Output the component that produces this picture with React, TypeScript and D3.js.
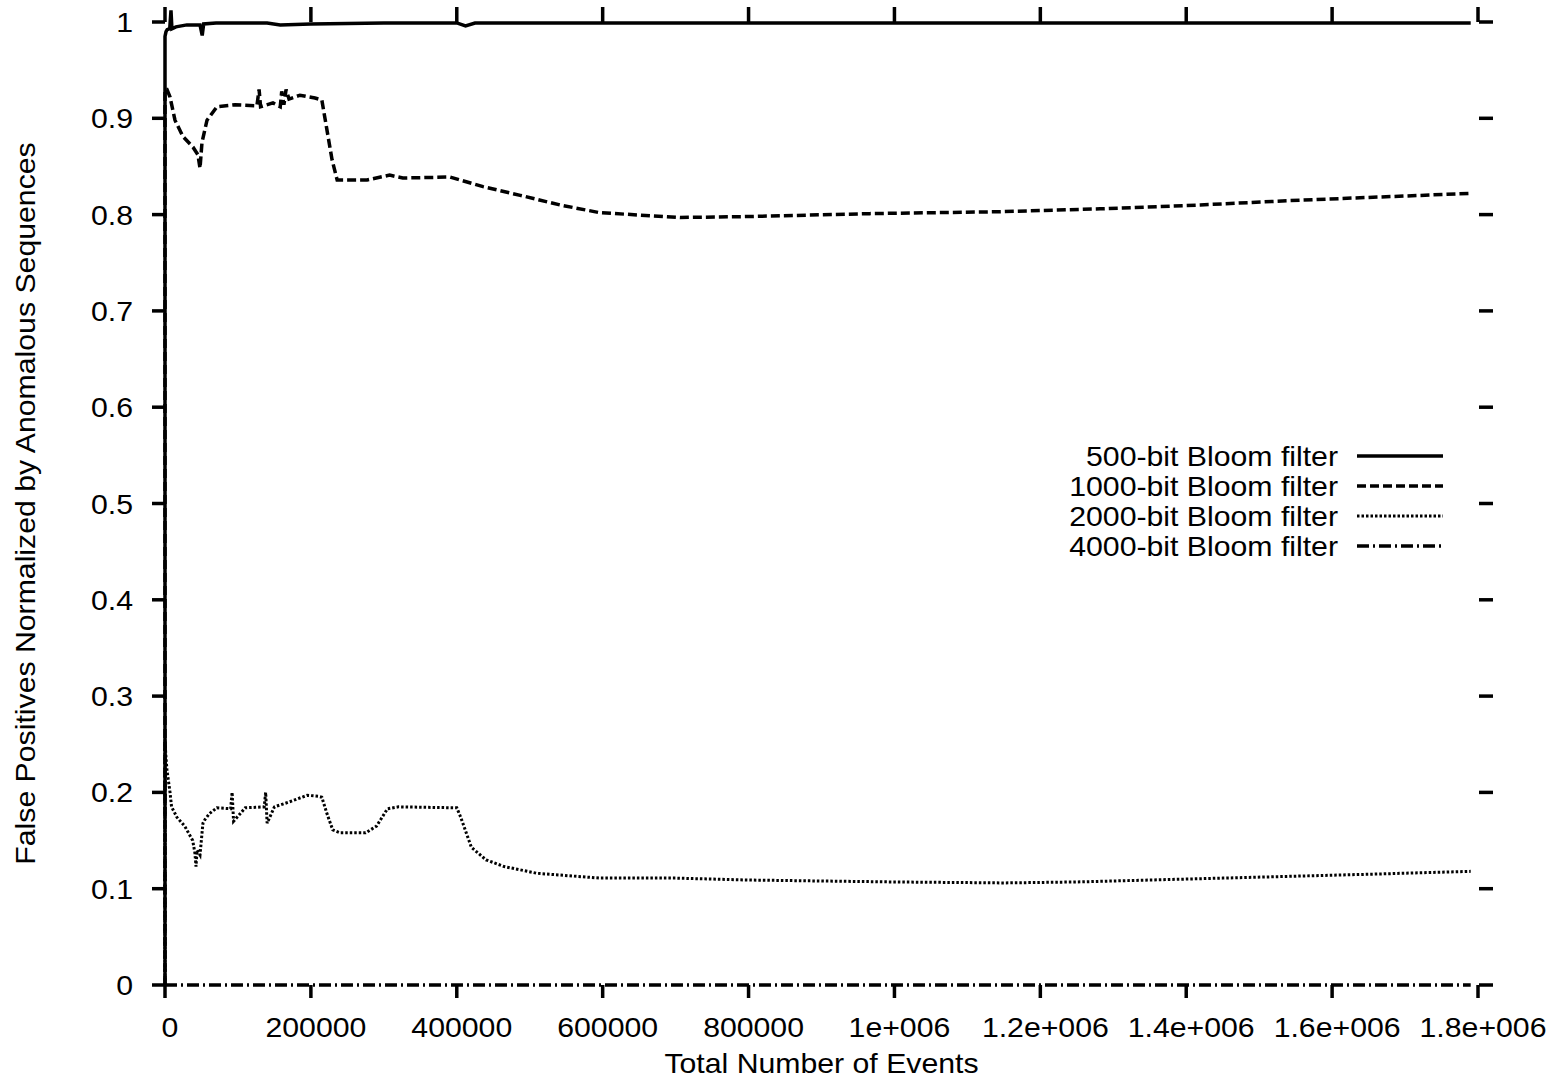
import React, { useEffect, useRef } from 'react';
import * as d3 from 'd3';

// x tick values and their labels (gnuplot style exponent)
const xTicks = [0, 200000, 400000, 600000, 800000, 1000000, 1200000, 1400000, 1600000, 1800000];
const xTickLabels = ['0', '200000', '400000', '600000', '800000', '1e+006', '1.2e+006', '1.4e+006', '1.6e+006', '1.8e+006'];
const yTicks = [0, 0.1, 0.2, 0.3, 0.4, 0.5, 0.6, 0.7, 0.8, 0.9, 1];
const yTickLabels = ['0', '0.1', '0.2', '0.3', '0.4', '0.5', '0.6', '0.7', '0.8', '0.9', '1'];

const seriesNames = ['500-bit Bloom filter', '1000-bit Bloom filter', '2000-bit Bloom filter', '4000-bit Bloom filter'];

// [events, false positives / anomalous sequences]
const bloom500 = [
  [0, 0], [0, 0.985], [1400, 0.99], [3000, 0.992], [6500, 0.993], [8200, 1.012], [9500, 0.993],
  [15000, 0.995], [30000, 0.997], [48000, 0.997], [51000, 0.986], [53000, 0.998], [70000, 0.999],
  [140000, 0.999], [158000, 0.997], [200000, 0.998], [300000, 0.999], [400000, 0.999],
  [412000, 0.996], [425000, 0.999], [600000, 0.999], [1000000, 0.999], [1400000, 0.999], [1790000, 0.999],
];

const bloom1000 = [
  [0, 0], [0, 0.93], [2700, 0.93], [6900, 0.922], [13700, 0.898], [24700, 0.881], [38400, 0.87],
  [45200, 0.862], [48000, 0.848], [50700, 0.875], [57600, 0.898], [71300, 0.912], [96000, 0.914],
  [126000, 0.913], [129000, 0.93], [131000, 0.912], [148000, 0.916], [158000, 0.912], [160000, 0.928],
  [163000, 0.914], [166000, 0.93], [170000, 0.92], [185000, 0.924], [205600, 0.921], [215000, 0.919],
  [222000, 0.888], [229000, 0.857], [236000, 0.836], [277000, 0.836], [308000, 0.841], [326000, 0.838],
  [391000, 0.839], [436000, 0.829], [487000, 0.82], [541500, 0.81], [596000, 0.802], [706000, 0.797],
  [802000, 0.798], [966000, 0.801], [1145000, 0.803], [1282000, 0.806], [1419000, 0.81],
  [1556000, 0.815], [1789000, 0.822],
];

const bloom2000 = [
  [0, 0], [0, 0.255], [1000, 0.24], [2700, 0.223], [6900, 0.2], [9000, 0.185], [16500, 0.174],
  [27000, 0.165], [38000, 0.15], [41000, 0.137], [42500, 0.123], [44000, 0.14], [48000, 0.135],
  [52000, 0.168], [55000, 0.172], [61000, 0.178], [71000, 0.184], [90000, 0.183], [92000, 0.2],
  [94000, 0.17], [110000, 0.184], [136000, 0.185], [138000, 0.2], [140000, 0.168], [150000, 0.185],
  [170000, 0.19], [195000, 0.197], [210000, 0.196], [215000, 0.195], [222000, 0.178], [230000, 0.161],
  [240000, 0.158], [275000, 0.158], [290000, 0.165], [305000, 0.183], [320000, 0.185], [400000, 0.184],
  [405000, 0.175], [420000, 0.143], [440000, 0.13], [465000, 0.123], [510000, 0.116], [596000, 0.111],
  [700000, 0.111], [800000, 0.109], [900000, 0.108], [1000000, 0.107], [1150000, 0.106],
  [1250000, 0.107], [1350000, 0.109], [1450000, 0.111], [1550000, 0.113], [1650000, 0.115],
  [1790000, 0.118],
];

const bloom4000 = [[0, 0], [1790000, 0]];

const allSeries = [bloom500, bloom1000, bloom2000, bloom4000];
const dashes = ['none', '9,4', '2.5,2', '12,4,2,4'];
const widths = [3.5, 3.5, 3, 3.5];

const App = () => {
  const svgRef = useRef(null);

  useEffect(() => {
    const width = 1560;
    const height = 1088;
    const left = 165;
    const right = 1478;
    const top = 22;
    const bottom = 985;
    const font = 'Liberation Sans, Arial, Helvetica, sans-serif';
    const fontSize = 28;
    const stretch = 1.08; // the reference glyphs are a bit wider than tall

    const svg = d3.select(svgRef.current);
    svg.selectAll('*').remove();
    svg.attr('width', width).attr('height', height);

    const addText = (x, y, str, anchor, rotate = 0) =>
      svg.append('text')
        .attr('transform', `translate(${x}, ${y}) rotate(${rotate}) scale(${stretch}, 1)`)
        .attr('text-anchor', anchor)
        .attr('font-family', font)
        .attr('font-size', fontSize)
        .text(str);

    const xScale = d3.scaleLinear().domain([0, 1800000]).range([left, right]);
    const yScale = d3.scaleLinear().domain([0, 1]).range([bottom, top]);

    // ticks on all four sides, pointing out, no border
    const ticks = svg.append('g').attr('stroke', '#000').attr('stroke-width', 3.5);
    xTicks.forEach(v => {
      ticks.append('line').attr('x1', xScale(v)).attr('x2', xScale(v)).attr('y1', bottom).attr('y2', bottom + 13);
      ticks.append('line').attr('x1', xScale(v)).attr('x2', xScale(v)).attr('y1', top).attr('y2', top - 15);
    });
    yTicks.forEach(v => {
      ticks.append('line').attr('x1', left).attr('x2', left - 13).attr('y1', yScale(v)).attr('y2', yScale(v));
      ticks.append('line').attr('x1', right + 1).attr('x2', right + 15).attr('y1', yScale(v)).attr('y2', yScale(v));
    });

    // tick labels
    xTicks.forEach((v, i) => addText(xScale(v) + 5, bottom + 52, xTickLabels[i], 'middle'));
    yTicks.forEach((v, i) => addText(left - 32, yScale(v) + 10, yTickLabels[i], 'end'));

    // axis titles
    addText((left + right) / 2, 1073, 'Total Number of Events', 'middle');
    addText(35, (top + bottom) / 2, 'False Positives Normalized by Anomalous Sequences', 'middle', -90);

    // the curves
    const line = d3.line()
      .x(d => xScale(d[0]))
      .y(d => yScale(d[1]));

    allSeries.forEach((data, i) => {
      svg.append('path')
        .datum(data)
        .attr('fill', 'none')
        .attr('stroke', '#000')
        .attr('stroke-width', widths[i])
        .attr('stroke-linejoin', 'miter')
        .attr('stroke-dasharray', dashes[i])
        .attr('d', line);
    });

    // legend
    seriesNames.forEach((name, i) => {
      const y = 456 + i * 30;
      addText(1338, y + 10, name, 'end');
      svg.append('line')
        .attr('x1', 1357)
        .attr('x2', 1443)
        .attr('y1', y)
        .attr('y2', y)
        .attr('stroke', '#000')
        .attr('stroke-width', widths[i])
        .attr('stroke-dasharray', dashes[i]);
    });
  }, []);

  return (
    <div style={{ position: 'absolute', left: 0, top: 0 }}>
      <svg ref={svgRef} style={{ display: 'block' }}></svg>
    </div>
  );
};

export default App;
